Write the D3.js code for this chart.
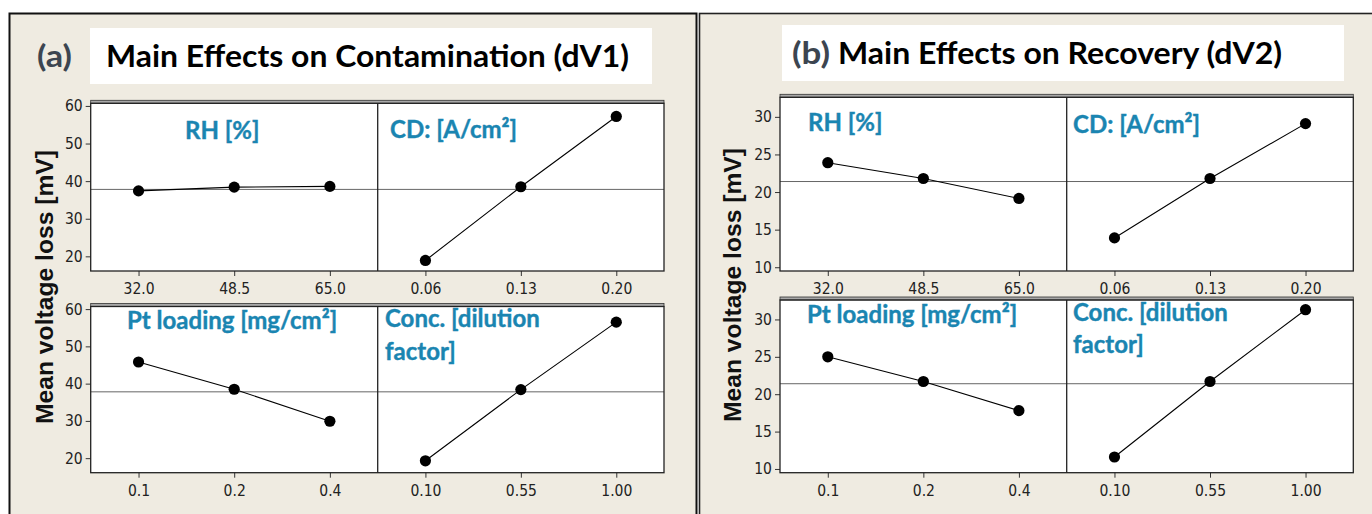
<!DOCTYPE html>
<html>
<head>
<meta charset="utf-8">
<script src="https://cdn.jsdelivr.net/npm/d3@7"></script>
<style>
  body { margin: 0; background: #fff; }
  svg { display: block; }
  .tick line { stroke: #333; }
  .facet { font-family: Lato, "Open Sans", sans-serif; font-weight: 700; fill: #1a85b1; }
</style>
</head>
<body>
<svg id="chart"></svg>
<script>
// levels on the x axes
var rhLevels = ["32.0", "48.5", "65.0"];
var cdLevels = ["0.06", "0.13", "0.20"];
var ptLevels = ["0.1", "0.2", "0.4"];
var concLevels = ["0.10", "0.55", "1.00"];

// (a) contamination dV1 means
var dv1RH = [37.4, 38.4, 38.6];
var dv1CD = [18.9, 38.5, 57.2];
var dv1Pt = [45.8, 38.5, 29.9];
var dv1Conc = [19.3, 38.4, 56.5];
var dv1Mean = 37.8;
var dv1Ticks = [20, 30, 40, 50, 60];

// (b) recovery dV2 means
var dv2RH = [23.9, 21.8, 19.15];
var dv2CD = [13.9, 21.8, 29.1];
var dv2Pt = [25.0, 21.7, 17.8];
var dv2Conc = [11.6, 21.7, 31.3];
var dv2Mean = 21.4;
var dv2Ticks = [10, 15, 20, 25, 30];

var width = 1372, height = 514;
var svg = d3.select("#chart").attr("width", width).attr("height", height);

// tick label look
var styleTicks = function(sel) {
    sel.attr("font-family", null).attr("font-size", null);
    sel.selectAll("text")
        .style("font-family", "'DejaVu Sans Condensed', 'DejaVu Sans', sans-serif")
        .style("font-size", "15.5px").style("fill", "#222");
};

// panel backgrounds
svg.append("rect").attr("x", 9.5).attr("y", 13.5).attr("width", 687).attr("height", 520)
    .style("fill", "#efebe1").style("stroke", "#111").style("stroke-width", 2);
svg.append("rect").attr("x", 699.5).attr("y", 13.5).attr("width", 700).attr("height", 520)
    .style("fill", "#efebe1").style("stroke", "#222").style("stroke-width", 1.6);

// one figure = 2x2 grid of main effect cells
var drawFigure = function(cfg) {
    var g = svg.append("g");

    // title box
    g.append("rect").attr("x", cfg.box[0]).attr("y", cfg.box[1])
        .attr("width", cfg.box[2]).attr("height", cfg.box[3]).style("fill", "#fff");
    g.append("text").attr("x", cfg.tagX).attr("y", cfg.titleY)
        .style("font-family", "Lato, sans-serif").style("font-weight", 700).style("font-size", "31px")
        .style("fill", "#3c4550").attr("textLength", cfg.tagW).attr("lengthAdjust", "spacingAndGlyphs")
        .text(cfg.tag);
    g.append("text").attr("x", cfg.titleX).attr("y", cfg.titleY)
        .style("font-family", "Lato, sans-serif").style("font-weight", 700).style("font-size", "31px")
        .style("fill", "#000").attr("textLength", cfg.titleW).attr("lengthAdjust", "spacingAndGlyphs")
        .text(cfg.title);

    var y = d3.scaleLinear().domain(cfg.domain);

    cfg.rows.forEach(function(row) {
        var top = row.top, bottom = row.bottom;
        y.range([bottom, top]);

        // white plot area
        g.append("rect").attr("x", cfg.x0).attr("y", top)
            .attr("width", cfg.x1 - cfg.x0).attr("height", bottom - top).style("fill", "#fff");
        // strip on top
        g.append("rect").attr("x", cfg.x0).attr("y", top - 3)
            .attr("width", cfg.x1 - cfg.x0).attr("height", 3)
            .style("fill", "#a8a8a8").style("stroke", "#333").style("stroke-width", 0.8);

        // grand mean line
        g.append("line").attr("x1", cfg.x0).attr("x2", cfg.x1)
            .attr("y1", y(cfg.mean)).attr("y2", y(cfg.mean))
            .style("stroke", "#666").style("stroke-width", 1);

        row.cells.forEach(function(cell, i) {
            var left = i == 0 ? cfg.x0 : cfg.xm;
            var right = i == 0 ? cfg.xm : cfg.x1;
            var x = d3.scalePoint().domain(cell.levels).range([left, right]).padding(0.5);
            var pts = cell.values.map(function(v, k) { return {lvl: cell.levels[k], val: v}; });

            var line = d3.line()
                .x(function(d) { return x(d.lvl); })
                .y(function(d) { return y(d.val); });
            g.append("path").datum(pts).attr("d", line)
                .style("fill", "none").style("stroke", "#000").style("stroke-width", 1.1);
            g.selectAll(null).data(pts).enter().append("circle")
                .attr("cx", function(d) { return x(d.lvl); })
                .attr("cy", function(d) { return y(d.val); })
                .attr("r", 5.6).style("fill", "#000");

            var xAxis = g.append("g").attr("transform", "translate(0," + bottom + ")")
                .call(d3.axisBottom(x).tickSize(5).tickPadding(7));
            xAxis.select(".domain").remove();
            styleTicks(xAxis);

            // facet label
            var lab = g.append("text").attr("class", "facet")
                .attr("x", cell.labelX).attr("y", cell.labelY)
                .style("font-size", "24px").style("stroke", "#1a85b1").style("stroke-width", 0.4);
            cell.label.forEach(function(t, k) {
                lab.append("tspan").attr("x", cell.labelX).attr("dy", k == 0 ? 0 : cell.lineGap).text(t);
            });
        });

        var yAxis = g.append("g").attr("transform", "translate(" + cfg.x0 + ",0)")
            .call(d3.axisLeft(y).tickValues(cfg.ticks).tickSize(5).tickPadding(3));
        yAxis.select(".domain").remove();
        styleTicks(yAxis);

        // frame
        g.append("rect").attr("x", cfg.x0).attr("y", top)
            .attr("width", cfg.x1 - cfg.x0).attr("height", bottom - top)
            .style("fill", "none").style("stroke", "#222").style("stroke-width", 1.3);
        g.append("line").attr("x1", cfg.xm).attr("x2", cfg.xm).attr("y1", top).attr("y2", bottom)
            .style("stroke", "#222").style("stroke-width", 1.3);
    });

    // y-axis name
    g.append("text")
        .attr("transform", "translate(" + cfg.yLabelX + "," + cfg.yLabelY + ") rotate(-90)")
        .attr("text-anchor", "middle")
        .style("font-family", "'Liberation Sans', Arial, sans-serif").style("font-weight", 700)
        .style("font-size", "24px").style("fill", "#111")
        .attr("textLength", 274).attr("lengthAdjust", "spacingAndGlyphs")
        .text("Mean voltage loss [mV]");
};

drawFigure({
    box: [90, 28, 562, 56], tag: "(a)", tagX: 37, tagW: 35, titleX: 106, titleW: 523, titleY: 67,
    title: "Main Effects on Contamination (dV1)",
    x0: 90.7, xm: 377.7, x1: 664, domain: [16.1, 60.7], mean: dv1Mean, ticks: dv1Ticks,
    yLabelX: 52.5, yLabelY: 287,
    rows: [
        {top: 103.3, bottom: 271, cells: [
            {levels: rhLevels, values: dv1RH, label: ["RH [%]"], labelX: 185, labelY: 139},
            {levels: cdLevels, values: dv1CD, label: ["CD: [A/cm²]"], labelX: 390, labelY: 138}
        ]},
        {top: 306.5, bottom: 472.7, cells: [
            {levels: ptLevels, values: dv1Pt, label: ["Pt loading [mg/cm²]"], labelX: 127, labelY: 329},
            {levels: concLevels, values: dv1Conc, label: ["Conc. [dilution", "factor]"], labelX: 385, labelY: 327, lineGap: 33}
        ]}
    ]
});

drawFigure({
    box: [782, 25, 562, 56], tag: "(b)", tagX: 792, tagW: 38, titleX: 838, titleW: 444, titleY: 64,
    title: "Main Effects on Recovery (dV2)",
    x0: 780, xm: 1066.7, x1: 1353.3, domain: [9.5, 32.6], mean: dv2Mean, ticks: dv2Ticks,
    yLabelX: 741, yLabelY: 285,
    rows: [
        {top: 97.3, bottom: 271, cells: [
            {levels: rhLevels, values: dv2RH, label: ["RH [%]"], labelX: 808, labelY: 131},
            {levels: cdLevels, values: dv2CD, label: ["CD: [A/cm²]"], labelX: 1073, labelY: 133}
        ]},
        {top: 300, bottom: 472.7, cells: [
            {levels: ptLevels, values: dv2Pt, label: ["Pt loading [mg/cm²]"], labelX: 807, labelY: 323},
            {levels: concLevels, values: dv2Conc, label: ["Conc. [dilution", "factor]"], labelX: 1073, labelY: 321, lineGap: 32}
        ]}
    ]
});
</script>
</body>
</html>
